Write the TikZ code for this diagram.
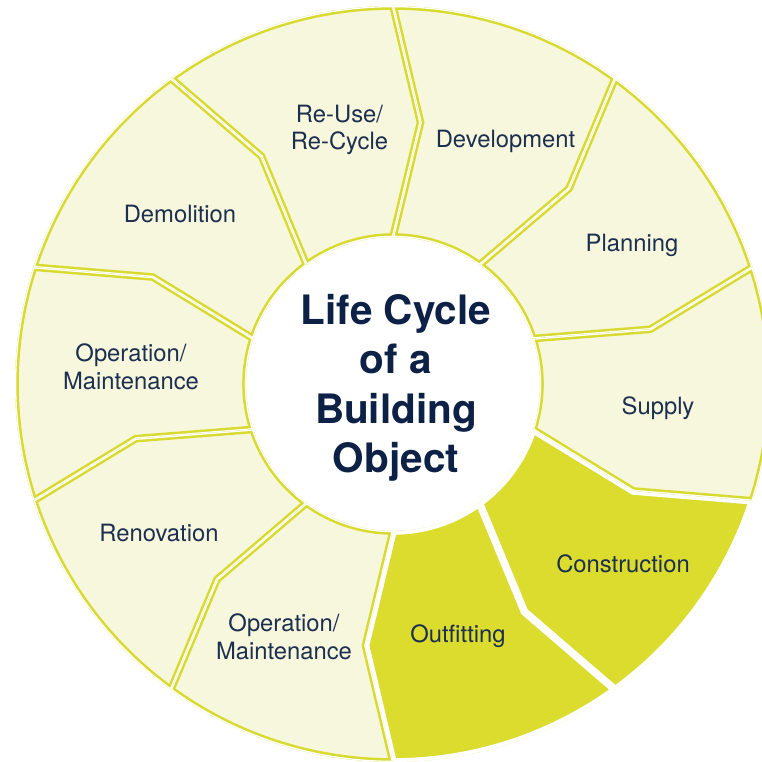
\documentclass[tikz,border=0pt]{standalone}
\usepackage{fontspec}
\setmainfont{TeX Gyre Heros}

\definecolor{stagefill}{HTML}{F7F7DE}
\definecolor{stageline}{HTML}{D8DA2F}
\definecolor{activefill}{HTML}{DBDC2E}
\definecolor{activeline}{HTML}{FFFFFF}
\definecolor{labelnavy}{HTML}{1C2F4F}
\definecolor{titlenavy}{HTML}{0C2145}

\tikzset{
  stagetext/.style={align=center, text=labelnavy, font=\fontsize{23.8}{27.5}\selectfont},
  titletext/.style={align=center, text=titlenavy, font=\fontsize{40.5}{49.5}\selectfont\bfseries},
}

\begin{document}
\begin{tikzpicture}[x=1pt,y=1pt]
  \useasboundingbox (-393,-378) rectangle (369,384);
  \def\rin{147}
  \def\rbend{263}
  \def\rout{378}

  % ten wedges, boundary every 36 deg, kinked 6 deg at mid radius
  \foreach \a/\tone in {18/stage, 54/stage, 90/stage, 126/stage, 162/stage,
                        198/stage, 234/stage, 270/active, 306/active, 342/stage} {
    \pgfmathsetmacro\b{\a+36}
    \pgfmathsetmacro\ka{\a-6}
    \pgfmathsetmacro\kb{\b-6}
    \begin{scope}
      \path[save path=\wedgepath] (\a:\rin) -- (\ka:\rbend) -- (\a:\rout)
        arc[start angle=\a, end angle=\b, radius=\rout]
        -- (\kb:\rbend) -- (\b:\rin)
        arc[start angle=\b, end angle=\a, radius=\rin] -- cycle;
      \clip[use path=\wedgepath];
      % inner half of the stroke only: white gap, then border
      \draw[use path=\wedgepath, fill=\tone fill, draw=\tone line, line width=7.6pt];
      \draw[use path=\wedgepath, draw=white, line width=2.6pt];
    \end{scope}
  }

  \node[stagetext] (reuse) at (-53.5,254) {Re-Use/\\Re-Cycle};
  \node[stagetext] (development) at (112.5,243) {Development};
  \node[stagetext] (planning) at (239,139) {Planning};
  \node[stagetext] (supply) at (265,-24) {Supply};
  \node[stagetext] (construction) at (230,-180) {Construction};
  \node[stagetext] (outfitting) at (65,-252) {Outfitting};
  \node[stagetext] (operation2) at (-109,-253) {Operation/\\Maintenance};
  \node[stagetext] (renovation) at (-234,-149) {Renovation};
  \node[stagetext] (operation1) at (-262,17) {Operation/\\Maintenance};
  \node[stagetext] (demolition) at (-213,170) {Demolition};

  \node[titletext] (title) at (3,-4) {Life Cycle\\of a\\Building\\Object};
\end{tikzpicture}
\end{document}
